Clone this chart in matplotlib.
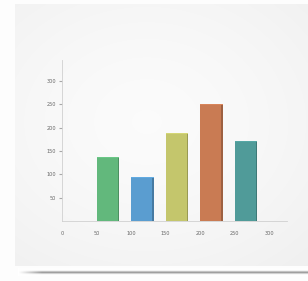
import numpy as np
import matplotlib
matplotlib.use("Agg")
import matplotlib.pyplot as plt
from matplotlib.colors import to_rgb

# data
categories = [50, 100, 150, 200, 250]
values = [137, 95, 188, 250, 172]
bar_colors = ["#62b87c", "#5a9dd0", "#c4c66c", "#c97b53", "#509b99"]
x_ticks = [0, 50, 100, 150, 200, 250, 300]
y_ticks = [50, 100, 150, 200, 250, 300]

W, H = 308, 281
fig = plt.figure(figsize=(W / 100, H / 100), dpi=100)
fig.patch.set_facecolor("#fdfdfd")

# card background with soft radial gradient
card = fig.add_axes([15 / W, (H - 266) / H, (W - 15) / W, (266 - 4) / H])
card.set_axis_off()
yy, xx = np.mgrid[0:1:200j, 0:1:200j]
r = np.sqrt((xx - 0.45) ** 2 + ((yy - 0.45) * 1.1) ** 2)
g = np.clip(0.985 - 0.06 * r ** 1.5, 0, 1)
img = np.dstack([g, g, g])
card.imshow(img, extent=[0, 1, 0, 1], aspect="auto", interpolation="bilinear")
card.set_xlim(0, 1)
card.set_ylim(0, 1)

# shadow line under card
sh = fig.add_axes([18 / W, (H - 276) / H, (W - 18) / W, 8 / H])
sh.set_axis_off()
sy = np.linspace(0, 1, 40)[:, None]
prof = 1 - 0.42 * np.exp(-((sy - 0.55) / 0.15) ** 2)
sx = np.linspace(0, 1, 200)[None, :]
fade = np.clip(sx / 0.08, 0, 1)
shade = 1 - (1 - prof) * fade
card_s = np.dstack([shade, shade, shade])
sh.imshow(card_s, extent=[0, 1, 0, 1], aspect="auto", interpolation="bilinear")

# main chart
ax = fig.add_axes([62 / W, (H - 221) / H, (287 - 62) / W, (221 - 60) / H])
ax.patch.set_alpha(0)
width = 33
for xc, v, c in zip(categories, values, bar_colors):
    ax.bar(xc, v, width=width, align="edge", color=c, zorder=2)
    dark = tuple(np.array(to_rgb(c)) * 0.78)
    ax.bar(xc + width - 2.5, v, width=2.5, align="edge", color=dark, zorder=3)
    light = tuple(np.minimum(np.array(to_rgb(c)) * 1.08, 1))
    ax.bar(xc, 2.0, bottom=v - 2.0, width=width, align="edge", color=light, zorder=3)

ax.set_xlim(0, 326)
ax.set_ylim(0, 345)
ax.set_xticks(x_ticks)
ax.set_yticks(y_ticks)
ax.set_xticklabels([str(t) for t in x_ticks])
ax.set_yticklabels([str(t) for t in y_ticks])
for s in ["top", "right"]:
    ax.spines[s].set_visible(False)
for s in ["left", "bottom"]:
    ax.spines[s].set_color("#d0d0d0")
    ax.spines[s].set_linewidth(0.6)
ax.tick_params(axis="y", length=2.5, width=0.8, color="#a8a8a8", labelsize=3.6,
               labelcolor="#666666", pad=1.5)
ax.tick_params(axis="x", length=0, labelsize=3.6, labelcolor="#666666", pad=7)

fig.savefig("out.png", dpi=100, facecolor=fig.get_facecolor())
